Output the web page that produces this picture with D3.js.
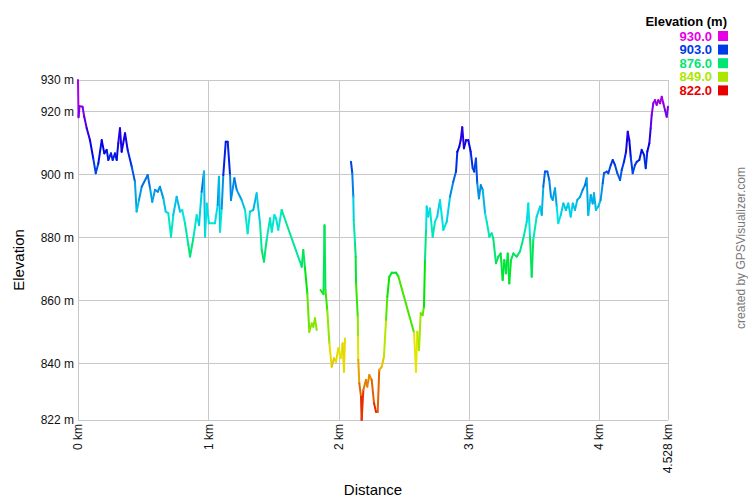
<!DOCTYPE html>
<html>
<head>
<meta charset="utf-8">
<script src="https://cdn.jsdelivr.net/npm/d3@7"></script>
<style>
  body { margin: 0; background: #fff; }
  text { font-family: Arial, "Liberation Sans", sans-serif; }
</style>
</head>
<body>
<div id="chart"></div>
<script>
// track profile, distance in km / elevation in m (null = gap between track segments)
const distKm = [
  0.000, 0.004, 0.012, 0.035, 0.048, 0.067, 0.092, 0.117, 0.136, 0.156,
  0.182, 0.202, 0.220, 0.233, 0.253, 0.266, 0.284, 0.297, 0.309, 0.322,
  0.335, 0.361, 0.381, 0.412, 0.437, 0.450, 0.468, 0.489, 0.535, 0.553,
  0.570, 0.591, 0.612, 0.629, 0.655, 0.673, 0.693, 0.714, 0.731, 0.757,
  0.783, 0.800, 0.821, 0.847, 0.860, 0.885, 0.911, 0.929, 0.949, 0.967,
  0.975, 0.988, 1.005, 1.051, 1.072, 1.082, 1.090, 1.103, 1.115, 1.134,
  1.149, 1.167, 1.174, 1.200, 1.218, 1.256, 1.282, 1.302, 1.320, 1.345,
  1.371, 1.397, 1.410, 1.427, 1.448, 1.474, 1.487, 1.507, 1.520, 1.537,
  1.563, 1.717, 1.729, 1.742, 1.760, 1.775, 1.794, 1.806, 1.819, 1.832,
  1.846,
  1.861, 1.884, 1.892, 1.899, 1.913, 1.929, 1.947, 1.965, 1.980, 1.998,
  2.016, 2.031, 2.041, 2.049,
  2.070,
  2.095, 2.105, 2.113, 2.116, 2.126, 2.131, 2.134, 2.147, 2.149, 2.151,
  2.159, 2.172, 2.177, 2.190, 2.210, 2.220, 2.236, 2.254, 2.272, 2.287,
  2.300, 2.312, 2.331, 2.348, 2.364, 2.374, 2.389, 2.408, 2.441, 2.458,
  2.579, 2.594, 2.604, 2.617, 2.630, 2.645, 2.655, 2.663, 2.671, 2.676,
  2.688, 2.701, 2.722, 2.740, 2.757, 2.778, 2.804, 2.830, 2.855, 2.880,
  2.901, 2.911, 2.926, 2.937, 2.949, 2.962, 2.978, 2.995, 3.014, 3.029,
  3.041, 3.054, 3.064, 3.077, 3.091, 3.106, 3.124, 3.137, 3.157, 3.175,
  3.187, 3.208, 3.226, 3.244, 3.259, 3.272, 3.285, 3.298, 3.310, 3.323,
  3.341, 3.367, 3.392, 3.418, 3.444, 3.456, 3.469, 3.482, 3.494, 3.520,
  3.546, 3.559, 3.571, 3.584, 3.602, 3.617, 3.630, 3.643, 3.661, 3.674,
  3.686, 3.705, 3.725, 3.745, 3.763, 3.781, 3.797, 3.814, 3.832, 3.853,
  3.873, 3.891, 3.904, 3.916, 3.935, 3.950, 3.960, 3.975, 3.993, 4.011,
  4.027, 4.037, 4.058, 4.070, 4.089, 4.104, 4.121, 4.139, 4.160, 4.173,
  4.190, 4.206, 4.219, 4.231, 4.242, 4.257, 4.275, 4.288, 4.308, 4.326,
  4.344, 4.357, 4.369, 4.385, 4.395, 4.403, 4.415, 4.428, 4.441, 4.454,
  4.467, 4.480, 4.492, 4.505, 4.518, 4.528
];
const elevM = [
  930.0, 918.2, 921.7, 921.5, 918.3, 914.7, 910.9, 905.1, 900.4, 903.5,
  910.9, 906.7, 907.8, 904.6, 906.7, 904.6, 906.7, 904.6, 909.9, 914.7,
  907.2, 913.1, 907.8, 902.5, 897.7, 888.2, 891.9, 896.1, 899.8, 895.6,
  891.3, 895.1, 894.5, 896.1, 892.4, 888.2, 887.7, 880.2, 887.1, 892.9,
  888.2, 888.7, 884.5, 877.6, 873.9, 879.7, 887.1, 883.9, 894.5, 900.9,
  880.2, 890.8, 884.5, 884.5, 890.3, 899.3, 881.8, 889.2, 899.8, 910.4,
  910.4, 899.8, 891.9, 898.8, 895.1, 891.9, 888.7, 881.3, 888.2, 888.7,
  894.0, 884.5, 876.0, 872.3, 879.2, 886.1, 881.8, 887.1, 886.1, 882.4,
  888.7, 870.7, 876.0, 870.2, 862.2, 850.0, 852.7, 851.6, 854.3, 850.6,
  null,
  863.3, 862.0, 883.9, 863.3, 856.9, 846.4, 838.9, 841.6, 840.5, 844.8,
  841.6, 846.4, 837.3, 847.9,
  null,
  904.0, 900.4, 892.9, 885.5, 878.1, 873.9, 865.4, 854.8, 848.5, 841.1,
  833.7, 829.4, 822.0, 831.5, 834.7, 832.6, 836.3, 834.7, 827.3, 824.6,
  824.6, 837.9, 838.9, 842.1, 853.8, 861.2, 867.5, 868.8, 868.8, 867.7,
  849.7, 837.3, 850.0, 844.2, 855.9, 855.3, 858.0, 872.8, 882.4, 889.8,
  886.6, 889.2, 880.2, 885.0, 886.6, 891.9, 882.4, 885.0, 892.9, 897.7,
  900.9, 907.2, 908.8, 910.9, 915.0, 908.3, 910.9, 910.9, 907.2, 902.0,
  900.9, 905.1, 897.2, 892.4, 896.6, 895.1, 887.7, 885.0, 880.2, 881.3,
  879.7, 871.8, 873.9, 874.9, 866.5, 872.8, 868.6, 874.9, 865.4, 872.8,
  874.9, 873.9, 875.5, 879.7, 885.0, 890.8, 880.2, 867.5, 879.2, 886.6,
  889.8, 887.1, 896.1, 900.9, 900.9, 898.2, 892.9, 891.9, 895.6, 889.8,
  884.5, 887.1, 890.8, 888.7, 890.8, 886.6, 890.8, 888.7, 891.9, 892.9,
  895.1, 896.6, 898.8, 887.1, 893.5, 890.8, 894.0, 888.7, 889.8, 891.9,
  897.2, 900.4, 900.9, 900.4, 903.0, 904.6, 903.0, 900.4, 898.2, 901.4,
  904.0, 907.2, 913.6, 910.9, 905.6, 900.4, 903.0, 904.0, 904.6, 907.8,
  906.2, 902.0, 907.2, 909.9, 914.7, 918.9, 922.6, 923.6, 922.1, 923.6,
  922.6, 924.7, 922.6, 920.5, 918.3, 921.5
];

const yTicks = [822, 840, 860, 880, 900, 920, 930];
const xTicks = [0, 1, 2, 3, 4, 4.528];
const legendValues = [930, 903, 876, 849, 822];
const legendTitle = 'Elevation (m)';
const xTitle = 'Distance';
const yTitle = 'Elevation';
const credit = 'created by GPSVisualizer.com';

const width = 748, height = 500;
const margin = {top: 80, right: 80, bottom: 80, left: 78};

const svg = d3.select('#chart').append('svg')
    .attr('width', width)
    .attr('height', height);

// scales
const x = d3.scaleLinear()
    .domain([0, d3.max(distKm)])
    .range([margin.left, width - margin.right]);
const y = d3.scaleLinear()
    .domain([d3.min(yTicks), d3.max(yTicks)])
    .range([height - margin.bottom, margin.top]);

// colour: hue runs red -> magenta over the elevation range
const hue = d3.scaleLinear().domain([822, 930]).range([0, 300]).clamp(true);
const colorOf = v => d3.hsl(hue(v), 1, 0.45).formatHex();

// grid
const grid = svg.append('g').attr('id', 'grid');
grid.selectAll('line.h').data(yTicks).join('line')
    .attr('class', 'h')
    .attr('x1', x.range()[0]).attr('x2', x.range()[1])
    .attr('y1', d => Math.round(y(d)) + 0.5).attr('y2', d => Math.round(y(d)) + 0.5)
    .attr('stroke', '#c8c8c8');
grid.selectAll('line.v').data(xTicks).join('line')
    .attr('class', 'v')
    .attr('x1', d => Math.round(x(d)) + 0.5).attr('x2', d => Math.round(x(d)) + 0.5)
    .attr('y1', y.range()[1]).attr('y2', y.range()[0])
    .attr('stroke', '#c8c8c8');

// axis labels
svg.append('g').selectAll('text').data(yTicks).join('text')
    .attr('x', margin.left - 4)
    .attr('y', d => y(d))
    .attr('dy', '0.35em')
    .attr('text-anchor', 'end')
    .style('font-size', '12px')
    .attr('fill', '#111')
    .text(d => d + ' m');

svg.append('g').selectAll('text').data(xTicks).join('text')
    .attr('transform', d => 'translate(' + x(d) + ',' + (height - margin.bottom + 4) + ') rotate(-90)')
    .attr('dy', '0.35em')
    .attr('text-anchor', 'end')
    .style('font-size', '12px')
    .attr('fill', '#111')
    .text(d => d + ' km');

svg.append('text')
    .attr('x', (x.range()[0] + x.range()[1]) / 2)
    .attr('y', 495)
    .attr('text-anchor', 'middle')
    .style('font-size', '15px')
    .text(xTitle);

svg.append('text')
    .attr('transform', 'translate(24,' + ((y.range()[0] + y.range()[1]) / 2 + 10) + ') rotate(-90)')
    .attr('text-anchor', 'middle')
    .style('font-size', '15px')
    .text(yTitle);

// profile, one short line per step so the colour can follow elevation
const pts = distKm.map((d, i) => ({d: d, e: elevM[i]}));
const steps = [];
for (let i = 0; i < pts.length - 1; i++) {
    if (pts[i].e == null || pts[i + 1].e == null) continue;
    steps.push([pts[i], pts[i + 1]]);
}
svg.append('g').attr('id', 'profile').selectAll('line').data(steps).join('line')
    .attr('x1', s => x(s[0].d)).attr('y1', s => y(s[0].e))
    .attr('x2', s => x(s[1].d)).attr('y2', s => y(s[1].e))
    .attr('stroke', s => colorOf((s[0].e + s[1].e) / 2))
    .attr('stroke-width', 2)
    .attr('stroke-linecap', 'round');

// legend
const legend = svg.append('g').attr('id', 'legend');
legend.append('text')
    .attr('x', 727).attr('y', 26)
    .attr('text-anchor', 'end')
    .style('font-size', '13px').style('font-weight', 'bold')
    .text(legendTitle);
const rows = legend.selectAll('g.row').data(legendValues).join('g')
    .attr('class', 'row')
    .attr('transform', (d, i) => 'translate(0,' + (36 + i * 13.6) + ')');
rows.append('text')
    .attr('x', 712).attr('dy', '0.35em')
    .attr('text-anchor', 'end')
    .style('font-size', '13px').style('font-weight', 'bold')
    .attr('fill', d => colorOf(d))
    .text(d => d.toFixed(1));
rows.append('rect')
    .attr('x', 718).attr('y', -5)
    .attr('width', 10).attr('height', 10)
    .attr('fill', d => colorOf(d));

// credit
svg.append('text')
    .attr('transform', 'translate(745,248) rotate(-90)')
    .attr('text-anchor', 'middle')
    .style('font-size', '12px')
    .attr('fill', '#777')
    .text(credit);
</script>
</body>
</html>
